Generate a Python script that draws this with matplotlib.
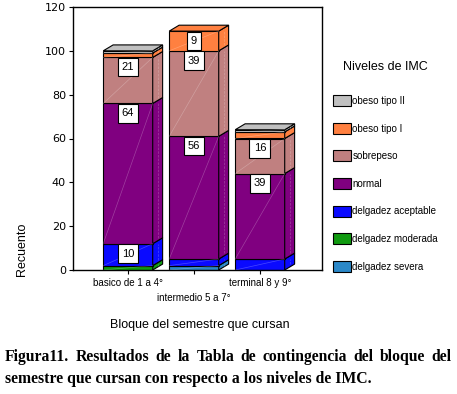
import matplotlib.pyplot as plt
from matplotlib.patches import Rectangle, Polygon, Patch

# data (counts)
bloques = ["basico de 1 a 4°", "intermedio 5 a 7°", "terminal 8 y 9°"]
niveles = ["delgadez severa", "delgadez moderada", "delgadez aceptable",
           "normal", "sobrepeso", "obeso tipo I", "obeso tipo II"]
severa = [0, 2, 0]
moderada = [2, 0, 0]
aceptable = [10, 3, 5]
normal = [64, 56, 39]
sobrepeso = [21, 39, 16]
obeso1 = [2, 9, 3]
obeso2 = [1, 0, 1]
colores = ["#2b88c8", "#109a10", "#0a0aff", "#800080", "#c08080", "#ff8040", "#c0c0c0"]

caption1 = "Figura11. Resultados de la Tabla de contingencia del bloque del"
caption2 = "semestre que cursan con respecto a los niveles de IMC."


def main():
    series = [severa, moderada, aceptable, normal, sobrepeso, obeso1, obeso2]
    fig = plt.figure(figsize=(4.57, 3.94), dpi=100)
    ax = fig.add_axes([73 / 457, 1 - 270 / 394, 249 / 457, 263 / 394])
    plt.rcParams['font.family'] = ['Liberation Sans', 'DejaVu Sans']

    w = 0.75
    dx, dy = 0.15, 2.7
    for i in range(len(bloques)):
        x0 = i - w / 2
        base = 0
        vals = [s[i] for s in series]
        top_idx = max(k for k, v in enumerate(vals) if v > 0)
        for k, v in enumerate(vals):
            if v == 0:
                continue
            b, t = base, base + v
            c = colores[k]
            ax.add_patch(Rectangle((x0, b), w, v, facecolor=c, edgecolor="black", lw=0.8, zorder=2))
            ax.add_patch(Polygon([(x0 + w, b), (x0 + w + dx, b + dy), (x0 + w + dx, t + dy), (x0 + w, t)],
                                 closed=True, facecolor=c, edgecolor="black", lw=0.8, zorder=2))
            # faint diagonal streaks like the original render
            ax.plot([x0, x0 + w], [b, t], color="white", lw=0.5, alpha=0.25, zorder=3)
            ax.plot([x0 + w + dx * 0.5, x0 + w + dx * 0.5], [b + dy, t], color="white", lw=0.5,
                    alpha=0.25, ls="--", zorder=3)
            if k == top_idx:
                ax.add_patch(Polygon([(x0, t), (x0 + dx, t + dy), (x0 + w + dx, t + dy), (x0 + w, t)],
                                     closed=True, facecolor=c, edgecolor="black", lw=0.8, zorder=2))
            if v >= 9:
                ax.text(i, t - min(4.5, v / 2), str(v), ha="center", va="center", fontsize=8, zorder=5,
                        bbox=dict(boxstyle="square,pad=0.38", facecolor="white", edgecolor="black", lw=0.8))
            base = t

    ax.set_xlim(-0.833, 2.94)
    ax.set_ylim(0, 120)
    ax.set_yticks(range(0, 121, 20))
    ax.set_xticks(range(len(bloques)))
    ax.set_xticklabels(["", "", ""])
    for i, lab in enumerate(bloques):
        ax.text(i, -3.5 if i != 1 else -10.5, lab, ha="center", va="top", fontsize=7)
    ax.tick_params(axis="both", length=3, width=0.8, labelsize=8, pad=2)
    for sp in ax.spines.values():
        sp.set_linewidth(1.0)

    handles = [Patch(facecolor=colores[k], edgecolor="black", lw=0.8, label=niveles[k])
               for k in range(len(niveles) - 1, -1, -1)]
    leg = fig.legend(handles=handles, loc="upper left", bbox_to_anchor=(333 / 457, 1 - 61 / 394),
                     frameon=False, fontsize=7, title="Niveles de IMC", title_fontsize=9,
                     handlelength=1.85, handleheight=1.35, handletextpad=0.15, labelspacing=1.72,
                     borderpad=0, borderaxespad=0)
    leg._legend_box.sep = 16

    fig.text(22 / 457, 1 - 249 / 394, "Recuento", rotation=90, ha="center", va="center", fontsize=9)
    fig.text(200 / 457, 1 - 325 / 394, "Bloque del semestre que cursan", ha="center", va="center", fontsize=9)

    # caption: first line justified across the width, second left aligned
    cap_kw = dict(fontsize=11.3, fontweight="bold", family="Liberation Serif", va="center")
    renderer = fig.canvas.get_renderer()
    words = caption1.split()
    arts = [fig.text(0, 1 - 357 / 394, wd, ha="left", **cap_kw) for wd in words]
    widths = [a.get_window_extent(renderer).width for a in arts]
    left, right = 5, 452
    gap = (right - left - sum(widths)) / (len(words) - 1)
    xpos = left
    for a, wdt in zip(arts, widths):
        a.set_x(xpos / 457)
        xpos += wdt + gap
    fig.text(left / 457, 1 - 379 / 394, caption2, ha="left", **cap_kw)

    fig.savefig("out.png", dpi=100)


main()
